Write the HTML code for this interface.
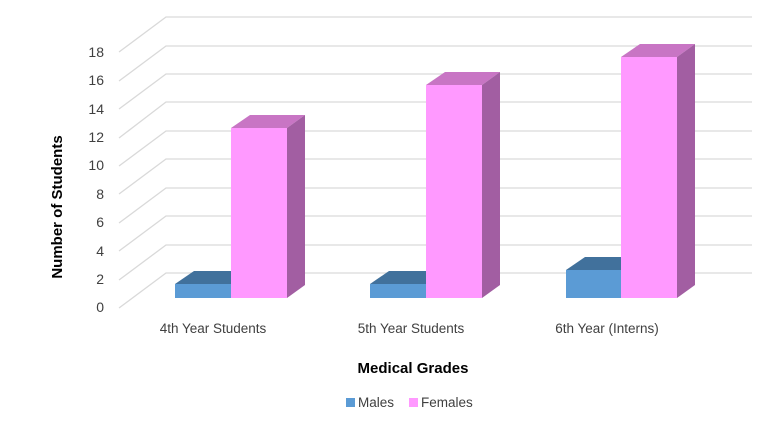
<!DOCTYPE html>
<html><head><style>body{margin:0;background:#fff}</style></head><body>
<svg width="768" height="419" xmlns="http://www.w3.org/2000/svg" font-family="Liberation Sans, sans-serif">
<g stroke="#d9d9d9" stroke-width="1.3" fill="none">
<path d="M119,308 L166,273 H752 M119,280 L166,245 H752 M119,251 L166,216 H752 M119,223 L166,188 H752 M119,194 L166,159 H752 M119,166 L166,131 H752 M119,138 L166,102 H752 M119,109 L166,74 H752 M119,81 L166,46 H752 M119,52 L166,17 H752"/>
</g>
<g font-size="14" fill="#404040" text-anchor="end">
<text x="104" y="312">0</text><text x="104" y="284">2</text><text x="104" y="256">4</text><text x="104" y="227">6</text><text x="104" y="199">8</text><text x="104" y="170">10</text><text x="104" y="142">12</text><text x="104" y="114">14</text><text x="104" y="85">16</text><text x="104" y="57">18</text>
</g>
<!-- bars -->
<g>
<polygon points="175,284 194,271 250,271 231,284" fill="#41719c"/>
<rect x="175" y="284" width="56" height="14" fill="#5b9bd5"/>
<polygon points="231,128 250,115 305,115 287,128" fill="#c875c4"/>
<polygon points="287,128 305,115 305,285 287,298" fill="#a25ea2"/>
<rect x="231" y="128" width="56" height="170" fill="#ff99ff"/>

<polygon points="370,284 389,271 445,271 426,284" fill="#41719c"/>
<rect x="370" y="284" width="56" height="14" fill="#5b9bd5"/>
<polygon points="426,85 445,72 500,72 482,85" fill="#c875c4"/>
<polygon points="482,85 500,72 500,285 482,298" fill="#a25ea2"/>
<rect x="426" y="85" width="56" height="213" fill="#ff99ff"/>

<polygon points="566,270 585,257 640,257 621,270" fill="#41719c"/>
<rect x="566" y="270" width="55" height="28" fill="#5b9bd5"/>
<polygon points="621,57 640,44 695,44 677,57" fill="#c875c4"/>
<polygon points="677,57 695,44 695,285 677,298" fill="#a25ea2"/>
<rect x="621" y="57" width="56" height="241" fill="#ff99ff"/>
</g>
<g font-size="13.5" fill="#404040" text-anchor="middle">
<text x="213" y="333">4th Year Students</text>
<text x="411" y="333">5th Year Students</text>
<text x="607" y="333">6th Year (Interns)</text>
</g>
<text x="413" y="373" font-size="15" font-weight="bold" text-anchor="middle" fill="#000">Medical Grades</text>
<text transform="translate(62,207) rotate(-90)" font-size="15" font-weight="bold" text-anchor="middle" fill="#000">Number of Students</text>
<rect x="346" y="398" width="9" height="9" fill="#5b9bd5"/>
<text x="358" y="407" font-size="13.5" fill="#404040">Males</text>
<rect x="409" y="398" width="9" height="9" fill="#ff99ff"/>
<text x="421" y="407" font-size="13.5" fill="#404040">Females</text>
</svg>
</body></html>
